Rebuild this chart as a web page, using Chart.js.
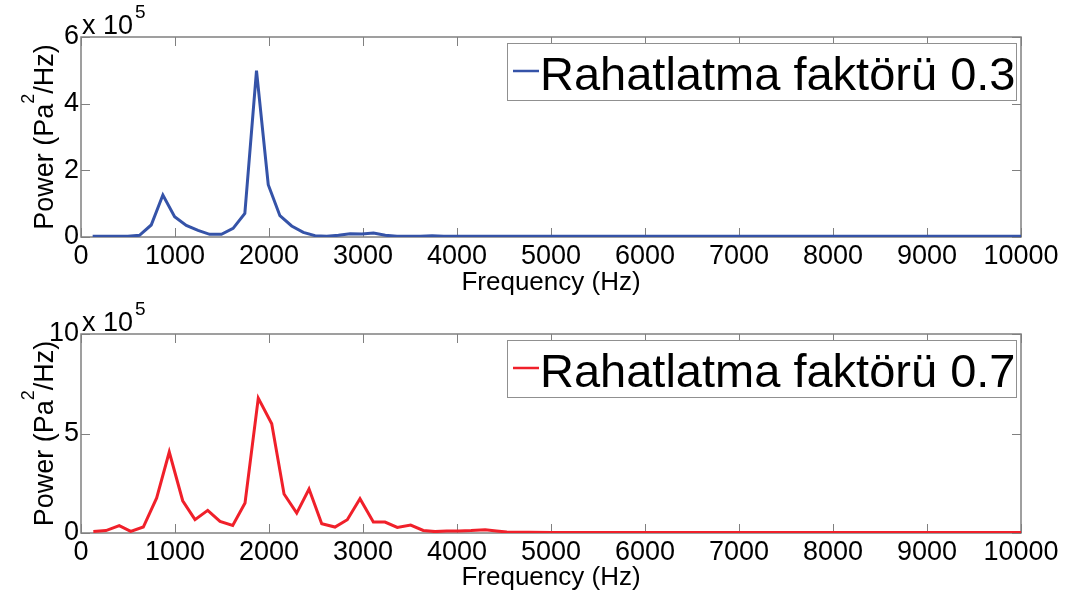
<!DOCTYPE html>
<html lang="tr">
<head>
    <meta charset="UTF-8">
    <title>Rahatlatma faktörü</title>
    <script src="https://cdn.jsdelivr.net/npm/chart.js"></script>
    <style>
        body {
            margin: 0;
            background: #fff;
            width: 1073px;
            height: 595px;
            overflow: hidden;
            position: relative;
        }

        .plot {
            position: absolute;
            left: 0;
        }
    </style>
</head>
<body>
    <div class="plot" style="top:0"><canvas id="topChart" width="1073" height="300"></canvas></div>
    <div class="plot" style="top:300px"><canvas id="bottomChart" width="1073" height="295"></canvas></div>
    <script>
        // values are in units of 10^5 Pa^2/Hz
        const topFreq = [124, 249, 373, 498, 622, 747, 871, 996, 1120, 1245, 1369, 1494, 1618, 1743, 1867, 1992, 2116, 2241, 2365, 2490, 2614, 2739, 2863, 2988, 3112, 3237, 3361, 3486, 3610, 3735, 3859, 3984, 5000, 6000, 7000, 8000, 9000, 10000];
        const topPower = [0.02, 0.02, 0.02, 0.02, 0.05, 0.36, 1.26, 0.61, 0.35, 0.2, 0.08, 0.08, 0.26, 0.71, 4.99, 1.57, 0.64, 0.33, 0.14, 0.04, 0.02, 0.05, 0.1, 0.09, 0.12, 0.05, 0.02, 0.02, 0.02, 0.04, 0.02, 0.02, 0.02, 0.02, 0.02, 0.02, 0.02, 0.02];

        const bottomFreq = [131, 266, 407, 529, 663, 805, 939, 1082, 1213, 1348, 1479, 1614, 1745, 1886, 2029, 2160, 2295, 2426, 2561, 2702, 2833, 2968, 3110, 3234, 3365, 3507, 3641, 3766, 3890, 4020, 4150, 4300, 4420, 4530, 5000, 6000, 7000, 8000, 9000, 10000];
        const bottomPower = [0.08, 0.12, 0.37, 0.08, 0.3, 1.76, 4.07, 1.62, 0.67, 1.14, 0.58, 0.38, 1.51, 6.78, 5.49, 1.96, 1.0, 2.21, 0.47, 0.3, 0.67, 1.72, 0.55, 0.55, 0.28, 0.4, 0.13, 0.07, 0.1, 0.1, 0.12, 0.16, 0.1, 0.05, 0.03, 0.03, 0.03, 0.03, 0.03, 0.03];

        const topLabel = "Rahatlatma faktörü 0.3";
        const bottomLabel = "Rahatlatma faktörü 0.7";
        const xTitle = "Frequency (Hz)";
        const yTitleParts = ["Power (Pa", "2", "/Hz)"];
        const exponent = "5";

        const FONT = "Arial, 'Liberation Sans', sans-serif";

        // matlab style axes box, inward ticks, exponent label, y title and boxed legend
        const axesPlugin = {
            id: 'axesBox',
            beforeDatasetsDraw(chart) {
                const { ctx, chartArea: a, scales: { x, y } } = chart;
                ctx.save();
                ctx.strokeStyle = '#808080';
                ctx.lineWidth = 1.5;
                ctx.strokeRect(a.left, a.top, a.right - a.left, a.bottom - a.top);
                ctx.beginPath();
                x.ticks.forEach(t => {
                    const px = Math.round(x.getPixelForValue(t.value)) + 0.5;
                    ctx.moveTo(px, a.bottom); ctx.lineTo(px, a.bottom - 9);
                    ctx.moveTo(px, a.top); ctx.lineTo(px, a.top + 9);
                });
                y.ticks.forEach(t => {
                    const py = Math.round(y.getPixelForValue(t.value)) + 0.5;
                    ctx.moveTo(a.left, py); ctx.lineTo(a.left + 9, py);
                    ctx.moveTo(a.right, py); ctx.lineTo(a.right - 9, py);
                });
                ctx.lineWidth = 1;
                ctx.stroke();
                ctx.restore();
            },
            afterDatasetsDraw(chart) {
                const { ctx, chartArea: a } = chart;
                ctx.save();
                ctx.fillStyle = '#000';
                ctx.textBaseline = 'alphabetic';

                // x 10^5
                ctx.font = '27px ' + FONT;
                ctx.fillText('x 10', a.left + 1, a.top - 3);
                const w = ctx.measureText('x 10').width;
                ctx.font = '19px ' + FONT;
                ctx.fillText(exponent, a.left + 3 + w, a.top - 19);

                // y axis title with superscript
                const big = '27px ' + FONT, small = '18px ' + FONT;
                ctx.font = big;
                const w1 = ctx.measureText(yTitleParts[0]).width;
                const w3 = ctx.measureText(yTitleParts[2]).width;
                ctx.font = small;
                const w2 = ctx.measureText(yTitleParts[1]).width;
                const total = w1 + w2 + w3;
                ctx.save();
                ctx.translate(53, (a.top + a.bottom) / 2);
                ctx.rotate(-Math.PI / 2);
                ctx.font = big;
                ctx.fillText(yTitleParts[0], -total / 2, 0);
                ctx.font = small;
                ctx.fillText(yTitleParts[1], -total / 2 + w1, -19);
                ctx.font = big;
                ctx.fillText(yTitleParts[2], -total / 2 + w1 + w2, 0);
                ctx.restore();

                // legend
                const ds = chart.data.datasets[0];
                const bx = 507, by = a.top + 6, bw = 509, bh = 57;
                ctx.fillStyle = '#fff';
                ctx.fillRect(bx, by, bw, bh);
                ctx.strokeStyle = '#909090';
                ctx.lineWidth = 1;
                ctx.strokeRect(bx + 0.5, by + 0.5, bw, bh);
                ctx.strokeStyle = ds.borderColor;
                ctx.lineWidth = 2.5;
                ctx.beginPath();
                ctx.moveTo(bx + 6, by + 28);
                ctx.lineTo(bx + 32, by + 28);
                ctx.stroke();
                ctx.fillStyle = '#000';
                ctx.font = '47px ' + FONT;
                ctx.fillText(ds.label, bx + 33, by + 47);
                ctx.restore();
            }
        };

        function makeChart(id, freq, power, label, color, yMax, yStep, axisHeight, topPad) {
            return new Chart(document.getElementById(id), {
                type: 'line',
                data: {
                    datasets: [{
                        label: label,
                        data: freq.map((f, i) => ({ x: f, y: power[i] })),
                        borderColor: color,
                        borderWidth: 3,
                        pointRadius: 0,
                        tension: 0,
                        fill: false
                    }]
                },
                options: {
                    responsive: false,
                    animation: false,
                    devicePixelRatio: 1,
                    layout: { padding: { left: 0, right: 52, top: topPad, bottom: 0 } },
                    plugins: { legend: { display: false }, tooltip: { enabled: false } },
                    scales: {
                        x: {
                            type: 'linear',
                            min: 0,
                            max: 10000,
                            grid: { display: false, drawTicks: false },
                            border: { display: false },
                            ticks: {
                                stepSize: 1000,
                                autoSkip: false,
                                maxRotation: 0,
                                padding: 3,
                                color: '#000',
                                font: { family: FONT, size: 27 },
                                callback: v => String(v)
                            },
                            title: {
                                display: true,
                                text: xTitle,
                                color: '#000',
                                font: { family: FONT, size: 26 },
                                padding: { top: 0, bottom: 2 }
                            },
                            afterFit: s => { s.height = axisHeight; }
                        },
                        y: {
                            min: 0,
                            max: yMax,
                            grid: { display: false, drawTicks: false },
                            border: { display: false },
                            ticks: {
                                stepSize: yStep,
                                padding: 2,
                                color: '#000',
                                font: { family: FONT, size: 27 }
                            },
                            afterFit: s => { s.width = 81; }
                        }
                    }
                },
                plugins: [axesPlugin]
            });
        }

        makeChart('topChart', topFreq, topPower, topLabel, '#3553a8', 6, 2, 63, 37);
        makeChart('bottomChart', bottomFreq, bottomPower, bottomLabel, '#f0202a', 10, 5, 62, 34);
    </script>
</body>
</html>
